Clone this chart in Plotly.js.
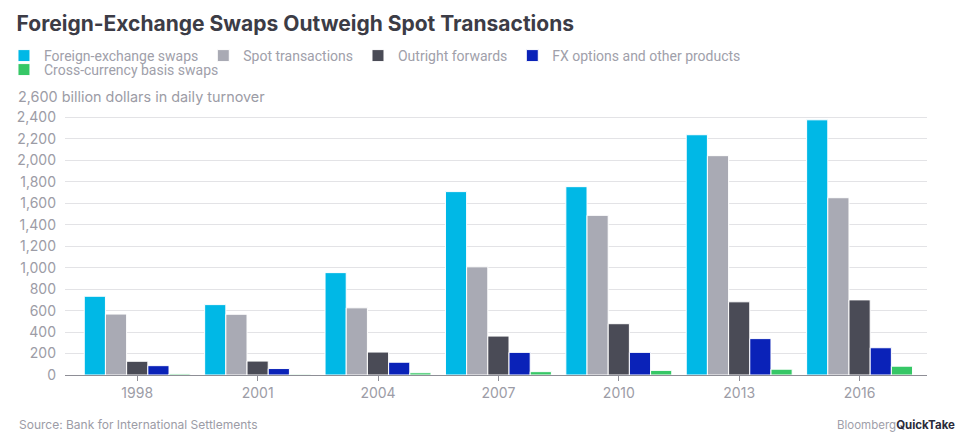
<!DOCTYPE html>
<html>
<head>
<meta charset="utf-8">
<script src="https://cdn.plot.ly/plotly-3.0.1.min.js"></script>
<style>
html,body{margin:0;padding:0;background:#fff;}
#chart{width:977px;height:448px;}
</style>
</head>
<body>
<div id="chart"></div>
<script>
const years = ["1998", "2001", "2004", "2007", "2010", "2013", "2016"];
const fxSwaps = [734, 656, 954, 1709, 1755, 2239, 2378];
const spot = [568, 566, 626, 1008, 1488, 2044, 1652];
const forwards = [128, 130, 214, 363, 478, 682, 700];
const options = [87, 60, 119, 211, 211, 339, 254];
const ccSwaps = [10, 7, 21, 31, 43, 54, 82];
const seriesNames = ["Foreign-exchange swaps", "Spot transactions", "Outright forwards", "FX options and other products", "Cross-currency basis swaps"];
const seriesColors = ["#00b8e6", "#a9aab4", "#4a4b56", "#0a22b8", "#36c766"];
const yTicks = [0, 200, 400, 600, 800, 1000, 1200, 1400, 1600, 1800, 2000, 2200, 2400, 2600];
const yTickLabels = ["0", "200", "400", "600", "800", "1,000", "1,200", "1,400", "1,600", "1,800", "2,000", "2,200", "2,400", ""];
const topLabel = "2,600 billion dollars in daily turnover";

const FONT = "Inter, 'Open Sans', sans-serif";
const LEGFONT = "Roboto, Inter, sans-serif";
const allSeries = [fxSwaps, spot, forwards, options, ccSwaps];
const traces = allSeries.map((vals, i) => ({
  type: "bar",
  name: seriesNames[i],
  x: years,
  y: vals,
  legend: i < 4 ? "legend" : "legend2",
  marker: {color: seriesColors[i], line: {color: "#ffffff", width: 1}},
  hoverinfo: "x+y+name"
}));

const legendBase = {
  orientation: "h",
  xref: "paper", yref: "paper",
  xanchor: "left", yanchor: "middle",
  font: {family: LEGFONT, size: 14, color: "#a0a0aa"},
  itemwidth: 30,
  bgcolor: "rgba(0,0,0,0)",
  borderwidth: 0,
  traceorder: "normal"
};

const layout = {
  width: 977,
  height: 448,
  margin: {l: 65, r: 50, t: 96, b: 73, autoexpand: false},
  paper_bgcolor: "#ffffff",
  plot_bgcolor: "#ffffff",
  font: {family: FONT, color: "#9c9ca6", size: 14},
  title: {
    text: "<b>Foreign-Exchange Swaps Outweigh Spot Transactions</b>",
    x: 0.017, xref: "container", xanchor: "left",
    y: 1 - 24 / 448, yref: "container", yanchor: "middle",
    font: {family: FONT, size: 21, color: "#3c3c46"}
  },
  barmode: "group",
  bargap: 0.12,
  bargroupgap: 0,
  showlegend: true,
  legend: Object.assign({}, legendBase, {x: -0.0708, y: (375 - 56) / 279}),
  legend2: Object.assign({}, legendBase, {x: -0.0708, y: (375 - 70) / 279}),
  xaxis: {
    type: "category",
    range: [-0.6, 6.56],
    showgrid: false,
    showline: true,
    linecolor: "#8e8e96",
    linewidth: 1,
    ticks: "outside",
    ticklen: 5,
    tickcolor: "#8e8e96",
    tickfont: {family: FONT, size: 14, color: "#9c9ca6"},
    fixedrange: true
  },
  yaxis: {
    range: [0, 2600],
    tickvals: yTicks,
    ticktext: yTickLabels,
    showgrid: true,
    gridcolor: "#e3e3e6",
    gridwidth: 1,
    zeroline: false,
    showline: false,
    ticks: "",
    ticklabelstandoff: 8,
    tickfont: {family: FONT, size: 14, color: "#9c9ca6"},
    fixedrange: true
  },
  annotations: [
    {
      text: topLabel,
      xref: "paper", yref: "y",
      x: -0.0592, y: 2600,
      xanchor: "left", yanchor: "middle",
      showarrow: false,
      bgcolor: "#ffffff",
      borderpad: 3,
      font: {family: FONT, size: 14.4, color: "#9c9ca6"}
    },
    {
      text: "Source: Bank for International Settlements",
      xref: "paper", yref: "paper",
      x: -0.056, y: -0.178,
      xanchor: "left", yanchor: "middle",
      showarrow: false,
      font: {family: FONT, size: 12, color: "#9c9ca6"}
    },
    {
      text: "Bloomberg<b><span style='color:#2b2b3a'>QuickTake</span></b>",
      xref: "paper", yref: "paper",
      x: 1.035, y: -0.178,
      xanchor: "right", yanchor: "middle",
      showarrow: false,
      font: {family: FONT, size: 11.5, color: "#a0a0aa"}
    }
  ]
};

Plotly.newPlot("chart", traces, layout, {displayModeBar: false, staticPlot: true});
</script>
</body>
</html>
